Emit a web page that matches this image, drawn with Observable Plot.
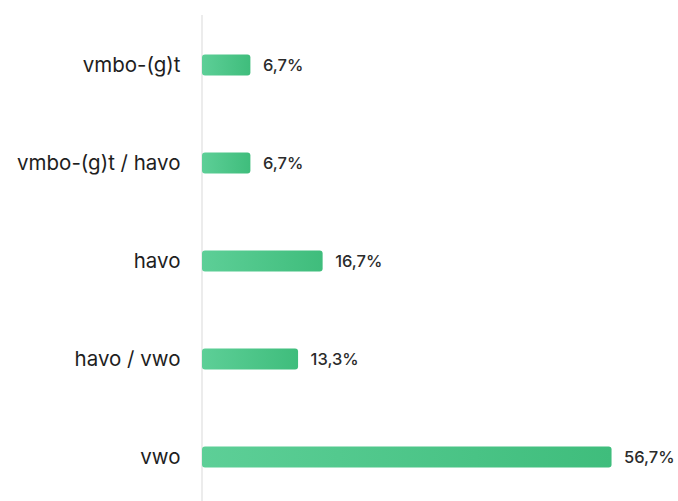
<!DOCTYPE html>
<html><head><meta charset="utf-8">
<script src="https://cdn.jsdelivr.net/npm/d3@7"></script>
<script src="https://cdn.jsdelivr.net/npm/@observablehq/plot@0.6"></script>
<style>body{margin:0;background:#fff;}</style>
</head><body><div id="chart"></div>
<script>
const categories = ["vmbo-(g)t", "vmbo-(g)t / havo", "havo", "havo / vwo", "vwo"];
const values = [6.7, 6.7, 16.7, 13.3, 56.7];
const labels = ["6,7%", "6,7%", "16,7%", "13,3%", "56,7%"];
const data = categories.map((c, i) => ({cat: c, value: values[i], label: labels[i]}));

const chart = Plot.plot({
  width: 678,
  height: 501,
  marginLeft: 202,
  marginRight: 0,
  marginTop: 15,
  marginBottom: 0,
  style: {fontFamily: "Inter, sans-serif", background: "#fff"},
  x: {domain: [0, 65.9], axis: null},
  y: {domain: categories, range: [14.6, 508.4], padding: 0, label: null, tickSize: 0, tickPadding: 22},
  marks: [
    Plot.ruleX([0], {stroke: "#e6e6e6", strokeWidth: 1.5, dx: -0.5}),
    Plot.barX(data, {x: "value", y: "cat", fill: "url(#barGrad)", insetTop: 38.4, insetBottom: 38.4, rx: 3}),
    Plot.text(data, {x: "value", y: "cat", text: "label", textAnchor: "start", dx: 12, fontSize: 16.5, fontWeight: 500, fill: "#2b2b2b"}),
    Plot.axisY({tickSize: 0, tickPadding: 22, fontSize: 20.5, label: null, color: "#1e1e1e"})
  ]
});
const svg = d3.select(chart);
const defs = svg.insert("defs", ":first-child");
const g = defs.append("linearGradient").attr("id", "barGrad").attr("x1", "0").attr("x2", "1").attr("y1", "0").attr("y2", "0");
g.append("stop").attr("offset", "0").attr("stop-color", "#5dcf97");
g.append("stop").attr("offset", "1").attr("stop-color", "#3fbd7c");
document.getElementById("chart").append(chart);
</script></body></html>
